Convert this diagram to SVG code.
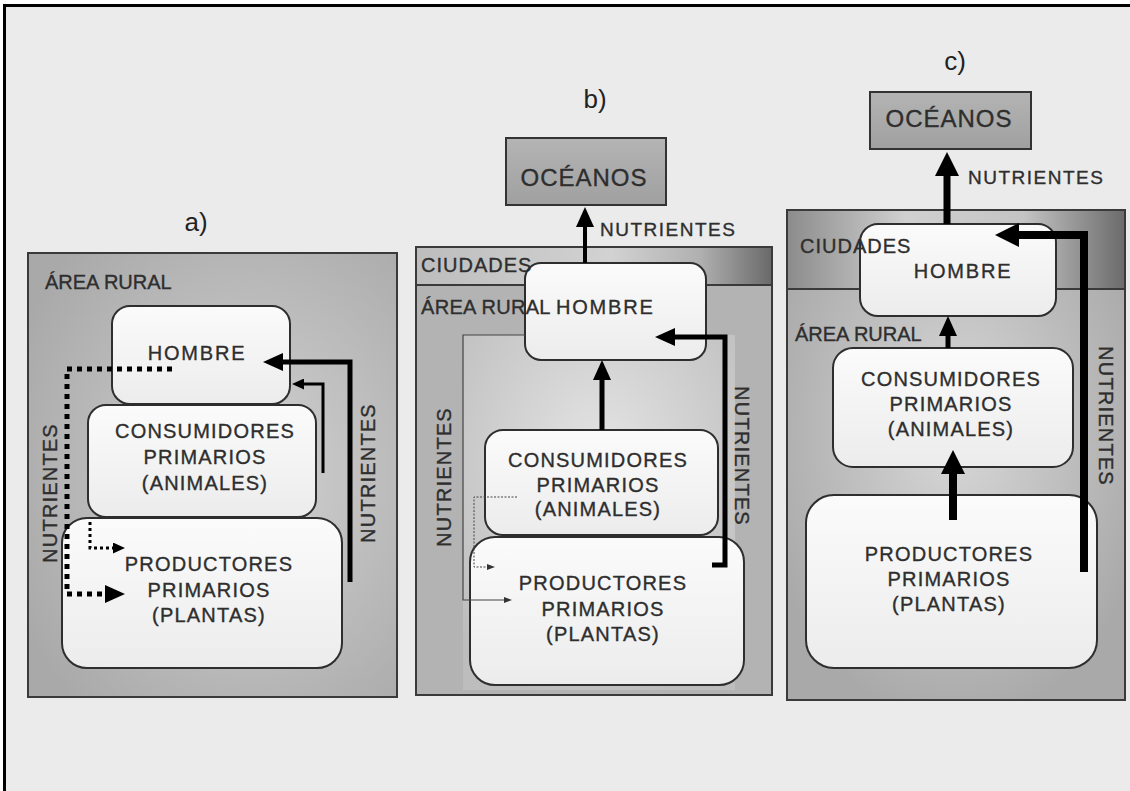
<svg xmlns="http://www.w3.org/2000/svg" width="1130" height="791" viewBox="0 0 1130 791">
<defs>
<style>
.t{font-family:"Liberation Sans",Arial,sans-serif;fill:#2e2e2e;stroke:#2e2e2e;stroke-width:0.35px;font-size:20px;letter-spacing:1.2px}
.c{text-anchor:middle}
.lab{font-family:"Liberation Sans",Arial,sans-serif;fill:#222;font-size:26px;text-anchor:middle}
.box{fill:url(#gBox);stroke:#2e2e2e;stroke-width:2}
.panel{stroke:#3a3a3a;stroke-width:2}
.ocean{fill:url(#gOcean);stroke:#333;stroke-width:2}
.ln{fill:none;stroke:#000;stroke-linejoin:miter}
.thin{fill:none;stroke:#444}
</style>
<linearGradient id="gBox" x1="0" y1="0" x2="0" y2="1"><stop offset="0" stop-color="#fbfbfb"/><stop offset="1" stop-color="#ececec"/></linearGradient>
<linearGradient id="gOcean" x1="0" y1="0" x2="0" y2="1"><stop offset="0" stop-color="#b4b4b4"/><stop offset="1" stop-color="#a0a0a0"/></linearGradient>
<radialGradient id="gRuralA" cx="0.6" cy="0.5" r="0.7"><stop offset="0" stop-color="#d2d2d2"/><stop offset="1" stop-color="#a9a9a9"/></radialGradient>
<radialGradient id="gRuralB" cx="0.5" cy="0.35" r="0.7"><stop offset="0" stop-color="#e4e4e4"/><stop offset="1" stop-color="#bdbdbd"/></radialGradient>
<radialGradient id="gRuralC" cx="0.5" cy="0.45" r="0.6"><stop offset="0" stop-color="#d8d8d8"/><stop offset="1" stop-color="#a9a9a9"/></radialGradient>
<linearGradient id="gCityB" x1="0" y1="0" x2="1" y2="0"><stop offset="0" stop-color="#bdbdbd"/><stop offset="0.55" stop-color="#d2d2d2"/><stop offset="0.8" stop-color="#b0b0b0"/><stop offset="1" stop-color="#6a6a6a"/></linearGradient>
<linearGradient id="gCityC" x1="0" y1="0" x2="1" y2="0"><stop offset="0" stop-color="#8c8c8c"/><stop offset="0.35" stop-color="#d0d0d0"/><stop offset="0.7" stop-color="#c4c4c4"/><stop offset="1" stop-color="#6c6c6c"/></linearGradient>
<marker id="aL" markerUnits="userSpaceOnUse" viewBox="0 0 24 24" markerWidth="24" markerHeight="24" refX="10" refY="12" orient="auto"><path d="M0,0 L24,12 L0,24 z" fill="#000"/></marker>
<marker id="aM" markerUnits="userSpaceOnUse" viewBox="0 0 20 18" markerWidth="20" markerHeight="18" refX="8" refY="9" orient="auto"><path d="M0,0 L20,9 L0,18 z" fill="#000"/></marker>
<marker id="aS" markerUnits="userSpaceOnUse" viewBox="0 0 12 11" markerWidth="12" markerHeight="11" refX="4" refY="5.5" orient="auto"><path d="M0,0 L12,5.5 L0,11 z" fill="#000"/></marker>
<marker id="aT" markerUnits="userSpaceOnUse" viewBox="0 0 8 6" markerWidth="8" markerHeight="6" refX="2" refY="3" orient="auto"><path d="M0,0 L8,3 L0,6 z" fill="#333"/></marker>
</defs>

<rect x="0" y="0" width="1130" height="791" fill="#ffffff"/>
<rect x="4.5" y="5.5" width="1140" height="800" fill="#ebebeb" stroke="#000" stroke-width="3"/>

<!-- Panel a -->
<g id="panel-a">
<text class="lab" x="196" y="231">a)</text>
<rect class="panel" x="28" y="253" width="369" height="444" fill="url(#gRuralA)"/>
<text class="t" x="45" y="289" style="letter-spacing:0">ÁREA RURAL</text>
</g>
<g id="a-hombre"><rect class="box" x="112" y="306" width="178" height="98" rx="18"/><text class="t c" x="197" y="360" style="letter-spacing:1.8px">HOMBRE</text></g>
<g id="a-consumidores"><rect class="box" x="88" y="405" width="228" height="112" rx="18"/>
<text class="t c" x="205" y="438">CONSUMIDORES</text><text class="t c" x="205" y="464">PRIMARIOS</text><text class="t c" x="205" y="490">(ANIMALES)</text></g>
<g id="a-productores"><rect class="box" x="62" y="518" width="280" height="150" rx="25"/>
<text class="t c" x="209" y="571">PRODUCTORES</text><text class="t c" x="209" y="597">PRIMARIOS</text><text class="t c" x="209" y="622">(PLANTAS)</text></g>

<!-- Panel b -->
<g id="panel-b">
<text class="lab" x="595" y="108">b)</text>
<rect class="panel" x="416" y="247" width="356" height="448" fill="#b3b3b3"/>
<rect x="463" y="335" width="272" height="355" fill="url(#gRuralB)"/>
<rect x="417" y="248" width="354" height="37" fill="url(#gCityB)"/>
<line x1="416" y1="285" x2="772" y2="285" stroke="#3a3a3a" stroke-width="2"/>
</g>
<g id="b-oceanos"><rect class="ocean" x="506" y="138" width="160" height="67"/><text class="t c" x="584" y="186" style="font-size:24px;letter-spacing:1px">OCÉANOS</text></g>
<g id="b-hombre"><rect class="box" x="525" y="263" width="181" height="97" rx="16"/></g>
<g id="b-labels">
<text class="t" x="421" y="272" style="letter-spacing:1px">CIUDADES</text>
<text class="t" x="421" y="314" style="letter-spacing:0.3px">ÁREA RURAL</text>
<text class="t" x="556" y="314" style="letter-spacing:1.8px">HOMBRE</text>
</g>
<g id="b-consumidores"><rect class="box" x="485" y="430" width="233" height="105" rx="18"/>
<text class="t c" x="598" y="467">CONSUMIDORES</text><text class="t c" x="598" y="492">PRIMARIOS</text><text class="t c" x="598" y="516">(ANIMALES)</text></g>
<g id="b-productores"><rect class="box" x="470" y="537" width="274" height="148" rx="25"/>
<text class="t c" x="603" y="590">PRODUCTORES</text><text class="t c" x="603" y="616">PRIMARIOS</text><text class="t c" x="603" y="641">(PLANTAS)</text></g>

<!-- Panel c -->
<g id="panel-c">
<text class="lab" x="955" y="70">c)</text>
<rect class="panel" x="787" y="210" width="338" height="490" fill="url(#gRuralC)"/>
<rect x="788" y="211" width="336" height="78" fill="url(#gCityC)"/>
<line x1="787" y1="289" x2="1125" y2="289" stroke="#3a3a3a" stroke-width="2"/>
</g>
<g id="c-oceanos"><rect class="ocean" x="870" y="92" width="161" height="57"/><text class="t c" x="949" y="127" style="font-size:24px;letter-spacing:1px">OCÉANOS</text></g>
<g id="c-hombre"><rect class="box" x="860" y="224" width="196" height="92" rx="18"/><text class="t c" x="963" y="278" style="letter-spacing:1.8px">HOMBRE</text></g>
<g id="c-labels">
<text class="t" x="800" y="253" style="letter-spacing:1px">CIUDADES</text>
<text class="t" x="795" y="341" style="letter-spacing:0">ÁREA RURAL</text>
</g>
<g id="c-consumidores"><rect class="box" x="833" y="348" width="240" height="119" rx="20"/>
<text class="t c" x="951" y="386">CONSUMIDORES</text><text class="t c" x="951" y="411">PRIMARIOS</text><text class="t c" x="951" y="436">(ANIMALES)</text></g>
<g id="c-productores"><rect class="box" x="806" y="495" width="291" height="173" rx="28"/>
<text class="t c" x="949" y="561">PRODUCTORES</text><text class="t c" x="949" y="586">PRIMARIOS</text><text class="t c" x="949" y="611">(PLANTAS)</text></g>

<!-- Connectors -->
<g id="connectors">
<path class="ln" d="M350,582 V362 H275" stroke-width="5" marker-end="url(#aM)"/>
<path class="ln" d="M323,473 V384 H300" stroke-width="3" marker-end="url(#aS)"/>
<path class="ln" d="M172,369 H67 V594 H113" stroke-width="5" stroke-dasharray="5 5" marker-end="url(#aM)"/>
<path class="ln" d="M90,522 V548 H117" stroke-width="3" stroke-dasharray="3 3" marker-end="url(#aS)"/>

<path class="ln" d="M585,263 V219" stroke-width="4" marker-end="url(#aM)"/>
<path class="ln" d="M602,430 V372" stroke-width="5" marker-end="url(#aM)"/>
<path class="ln" d="M712,565 H725 V337 H667" stroke-width="5" marker-end="url(#aM)"/>
<path class="thin" d="M525,335 H463 V600 H506" stroke-width="1.2" marker-end="url(#aT)"/>
<path class="thin" d="M517,497 H474 V567 H489" stroke-width="1" stroke-dasharray="2 1.5" marker-end="url(#aT)"/>

<path class="ln" d="M947,224 V166" stroke-width="7" marker-end="url(#aL)"/>
<path class="ln" d="M948,348 V328" stroke-width="5" marker-end="url(#aM)"/>
<path class="ln" d="M953,520 V464" stroke-width="8" marker-end="url(#aL)"/>
<path class="ln" d="M1084,572 V235 H1009" stroke-width="8" marker-end="url(#aL)"/>
</g>

<g id="connector-labels">
<text class="t c" transform="translate(50,493) rotate(-90)" y="7">NUTRIENTES</text>
<text class="t c" transform="translate(368,473) rotate(-90)" y="7">NUTRIENTES</text>
<text class="t" x="600" y="236" style="font-size:19px;letter-spacing:1.5px">NUTRIENTES</text>
<text class="t c" transform="translate(444,477) rotate(-90)" y="7">NUTRIENTES</text>
<text class="t c" transform="translate(742,456) rotate(90)" y="7">NUTRIENTES</text>
<text class="t" x="968" y="184" style="font-size:19px;letter-spacing:1.5px">NUTRIENTES</text>
<text class="t c" transform="translate(1106,416) rotate(90)" y="7">NUTRIENTES</text>
</g>
</svg>
